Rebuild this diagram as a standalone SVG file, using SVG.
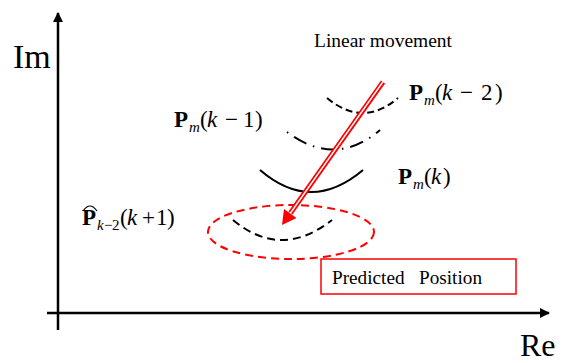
<svg xmlns="http://www.w3.org/2000/svg" width="574" height="363" viewBox="0 0 574 363">
<defs>
<marker id="axh" viewBox="0 0 10 10" refX="9" refY="5" markerWidth="4" markerHeight="4" orient="auto" markerUnits="strokeWidth">
<path d="M0,0 L10,5 L0,10 z" fill="#000"/>
</marker>
</defs>
<style>
.t{font-family:"Liberation Serif","Times New Roman",serif;fill:#000}
.m{font-family:"Liberation Serif","Times New Roman",serif;font-size:23px;fill:#000}
.s{font-size:15px}
.b{font-weight:bold}
.i{font-style:italic}
.arc{fill:none;stroke:#000;stroke-width:2}
</style>
<rect width="574" height="363" fill="#fff"/>
<g id="axes">
<line x1="58" y1="330" x2="58" y2="13" stroke="#000" stroke-width="2.5" marker-end="url(#axh)"/>
<line x1="47" y1="313" x2="549" y2="313" stroke="#000" stroke-width="2.5" marker-end="url(#axh)"/>
<text class="t" x="13" y="68" font-size="34">Im</text>
<text class="t" x="520" y="356" font-size="32">Re</text>
</g>
<g id="arc-k2">
<path class="arc" d="M327,98 Q363,128 398,98" stroke-dasharray="7 4"/>
<text class="m" y="100"><tspan class="b" x="409">P</tspan><tspan class="i s" x="424" dy="5">m</tspan><tspan x="435" dy="-5">(</tspan><tspan class="i" x="442">k</tspan><tspan x="460">−</tspan><tspan x="481">2</tspan><tspan x="495">)</tspan></text>
</g>
<g id="arc-k1">
<path class="arc" d="M287,132 Q335,168 380,130" stroke-dasharray="1.5 7 14 7"/>
<text class="m" y="127"><tspan class="b" x="174">P</tspan><tspan class="i s" x="189" dy="5">m</tspan><tspan x="200" dy="-5">(</tspan><tspan class="i" x="207">k</tspan><tspan x="225">−</tspan><tspan x="243">1</tspan><tspan x="255">)</tspan></text>
</g>
<g id="arc-k">
<path class="arc" d="M260,170 Q311,214 363,170"/>
<text class="m" y="184"><tspan class="b" x="398">P</tspan><tspan class="i s" x="413" dy="5">m</tspan><tspan x="424" dy="-5">(</tspan><tspan class="i" x="431">k</tspan><tspan x="443">)</tspan></text>
</g>
<g id="predicted">
<ellipse cx="291" cy="232" rx="83" ry="27" fill="none" stroke="#f00" stroke-width="2" stroke-dasharray="8 5"/>
<path class="arc" d="M233,220 Q281,260 332,220" stroke-dasharray="8 5"/>
<text class="m" y="225"><tspan class="b" x="82">P</tspan><tspan class="i s" x="97" dy="5">k</tspan><tspan class="s" x="104">−</tspan><tspan class="s" x="112">2</tspan><tspan x="120" dy="-5">(</tspan><tspan class="i" x="127">k</tspan><tspan x="142">+</tspan><tspan x="156">1</tspan><tspan x="167">)</tspan></text>
<path d="M83,211 Q90,201 97,211" fill="none" stroke="#000" stroke-width="1.2"/>
</g>
<g id="connectors">
<line x1="383" y1="82" x2="290.5" y2="213" stroke="#f00" stroke-width="5"/>
<line x1="383.5" y1="81" x2="290.5" y2="213" stroke="#fff" stroke-width="1.4"/>
<path d="M282,225 L284,209 L296.5,218 z" fill="#f00"/>
</g>
<g id="label-linear">
<text class="t" x="314" y="47" font-size="18" textLength="138" lengthAdjust="spacingAndGlyphs">Linear movement</text>
</g>
<g id="box">
<rect x="321" y="259" width="195" height="35" fill="#fff" stroke="#f00" stroke-width="1.5"/>
<text class="t" x="332" y="284" font-size="18" xml:space="preserve" textLength="150" lengthAdjust="spacingAndGlyphs">Predicted   Position</text>
</g>
</svg>
